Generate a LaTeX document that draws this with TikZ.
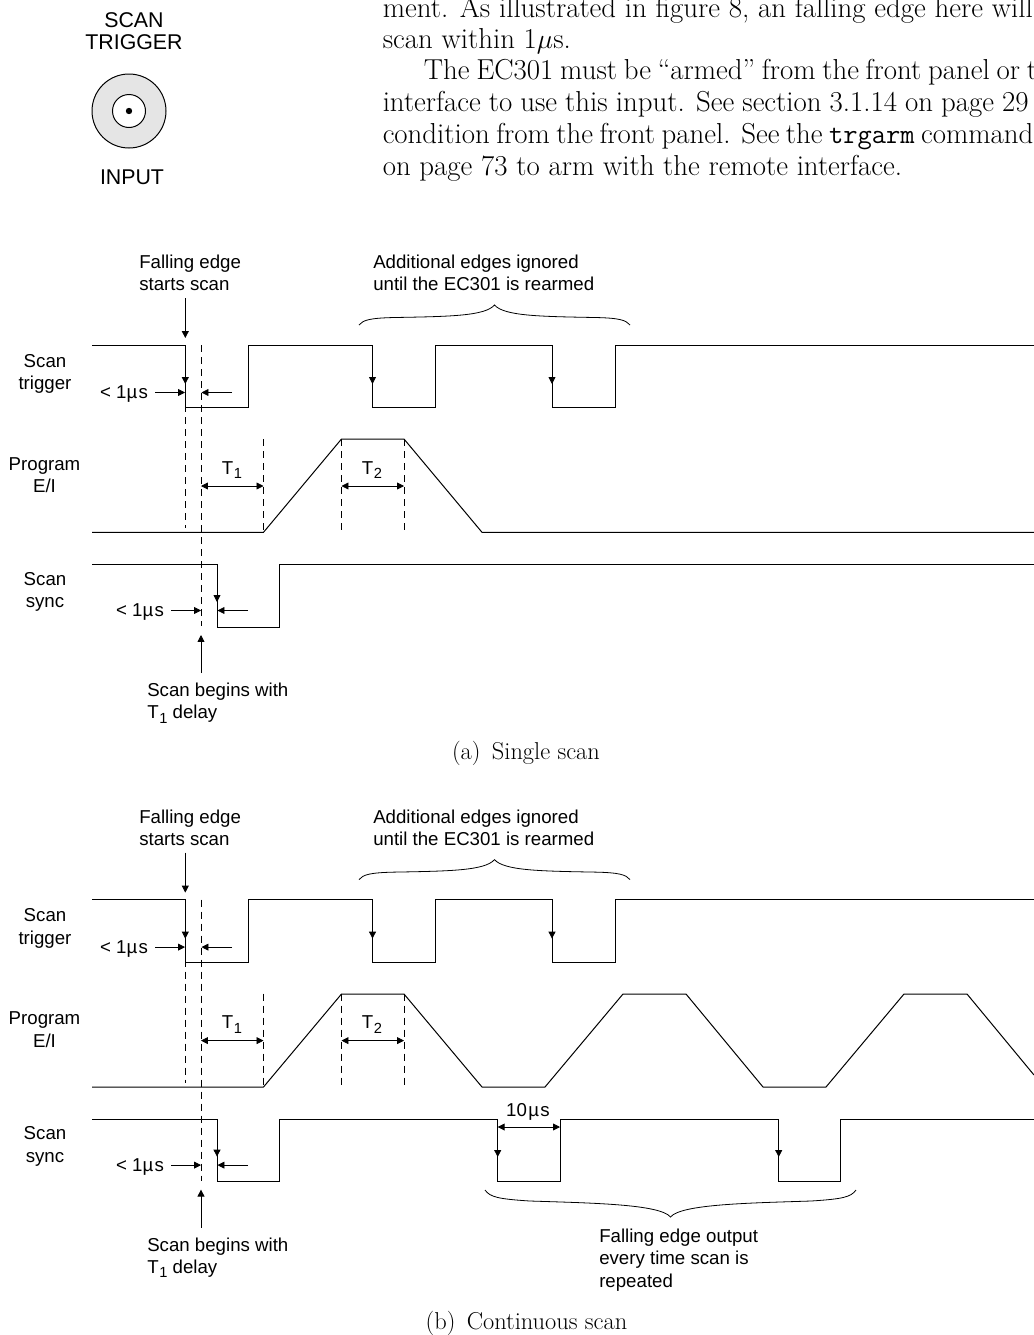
\documentclass[tikz,border=0pt]{standalone}
\usepackage{fontspec}
\setmainfont{Latin Modern Roman}
\newfontfamily\hv{Liberation Sans}
\usetikzlibrary{arrows.meta}
\tikzset{
  x=0.75pt,y=-0.75pt,
  wave/.style={line width=0.75pt,line join=miter},
  guide/.style={line width=0.6pt,dash pattern=on 5.5pt off 3.5pt},
  tip/.style={line width=0.6pt,-{Triangle[length=5.2pt,width=5.2pt]}},
  both/.style={line width=0.6pt,{Triangle[length=5.2pt,width=5.2pt]}-{Triangle[length=5.2pt,width=5.2pt]}},
  lab/.style={font=\hv\fontsize{14}{16.8}\selectfont,inner sep=0pt,align=center},
  labl/.style={lab,align=left},
  bodytext/.style={font=\fontsize{21.65}{23.8}\selectfont,inner sep=0pt,anchor=base west},
  captext/.style={font=\fontsize{18.3}{22}\selectfont,inner sep=0pt,anchor=base},
}
\newcommand{\Tsub}[1]{T\kern0.5pt\raisebox{-0.42ex}{\fontsize{11}{11}\selectfont #1}}
\newcommand{\panel}[1]{%
  \node[labl,anchor=west] (#1fe) at (139,273) {Falling edge\\starts scan};
  \node[labl,anchor=west] (#1ae) at (373,273) {Additional edges ignored\\until the EC301 is rearmed};
  \node[lab] (#1st) at (45,374) {Scan\\trigger};
  \node[lab] (#1pe) at (44.5,475) {Program\\E/I};
  \node[lab] (#1ss) at (45,592) {Scan\\sync};
  \node[lab] (#1l1) at (124,394) {< 1µ\kern1pt s};
  \node[lab] (#1l2) at (140,612) {< 1µ\kern1pt s};
  \node[lab] (#1t1) at (232,470) {\Tsub{1}};
  \node[lab] (#1t2) at (372,470) {\Tsub{2}};
  \node[labl,anchor=west] (#1sb) at (147,703) {Scan begins with\\\Tsub{1} delay};
  % guides
  \draw[guide] (185.3,345) -- (185.3,528);
  \draw[guide] (201,345) -- (201,626);
  \draw[guide] (263.5,439) -- (263.5,532);
  \draw[guide] (341.5,439) -- (341.5,532);
  \draw[guide] (404,439) -- (404,532);
  % trigger
  \draw[wave] (92,345.3) -| (185.3,407.7) -| (248,345.3) -| (372.5,407.7) -| (435.5,345.3) -| (552,407.7) -| (615,345.3) -- (1034,345.3);
  % arrows
  \draw[tip] (185.3,298) -- (185.3,338);
  \foreach \xx in {185.3,372.5,552} \draw[tip] (\xx,360) -- (\xx,384);
  \draw[tip] (217,580) -- (217,602);
  \draw[tip] (155,392.5) -- (185,392.5);
  \draw[tip] (232,392.5) -- (201.5,392.5);
  \draw[tip] (171,610.5) -- (201,610.5);
  \draw[tip] (248,610.5) -- (217.5,610.5);
  \draw[both] (201,486) -- (263.5,486);
  \draw[both] (341.5,486) -- (404,486);
  \draw[tip] (201,673) -- (201,635);
  % brace
  \draw[line width=0.6pt] (359,325) .. controls (363,320) and (370,318) .. (395,317.5)
     .. controls (450,316.5) and (485,316) .. (494.5,305)
     .. controls (504,316) and (540,316.5) .. (595,317.5)
     .. controls (619,318) and (626,320) .. (630,325);
}
\begin{document}
\begin{tikzpicture}
\useasboundingbox (0,0) rectangle (1034,1335);
\fill[white] (0,0) rectangle (1034,1335);
% connector
\node[lab,font=\hv\fontsize{16}{16.5}\selectfont] (sct) at (134,31) {SCAN\\TRIGGER};
\node[lab,font=\hv\fontsize{16}{16.5}\selectfont] (inp) at (132,177) {INPUT};
\filldraw[fill=black!10,line width=0.75pt] (129,111) circle (37);
\filldraw[fill=white,line width=0.75pt] (129,111) circle (16.5);
\fill (129,111) circle (3.2);
% body text
\begin{scope}
\clip (0,0) rectangle (1034,1335);
\node[bodytext] (b1) at (382.5,17) {\hbox to 487.5pt{ment.  As illustrated in figure 8, an falling edge here will}};
\node[bodytext] (b2) at (382.5,48.4) {scan within 1$\mu$s.};
\node[bodytext] (b3) at (423.5,79.8) {\hbox to 460pt{The EC301 must be “armed” from the front panel or t}};
\node[bodytext] (b4) at (382.5,111.7) {\hbox to 484.5pt{interface to use this input.  See section 3.1.14 on page 29}};
\node[bodytext] (b5) at (382.5,143.4) {\hbox to 488pt{condition from the front panel.  See the {\fontsize{20.8}{23.8}\selectfont\ttfamily trgarm} command}};
\node[bodytext] (b6) at (382.5,175.2) {on page 73 to arm with the remote interface.};
\end{scope}
% panel a
\panel{a}
\draw[wave] (92,532.3) -- (263.5,532.3) -- (341.5,439) -- (404,439) -- (482,532.3) -- (1034,532.3);
\draw[wave] (92,564) -| (217,627) -| (279.5,564) -- (1034,564);
\node[captext] (capa) at (526,759.5) {(a)\kern3pt{} Single scan};
% panel b
\begin{scope}[shift={(0,554.6)}]
\panel{b}
\end{scope}
\draw[wave] (92,1087) -- (263.5,1087) -- (341.5,994) -- (404,994) -- (482,1087) -- (545,1087) -- (623,994) -- (686,994) -- (763,1087) -- (826,1087) -- (904,994) -- (967,994) -- (1034,1075);
\draw[wave] (92,1119) -| (217,1181) -| (279.5,1119) -| (497.7,1181) -| (560,1119) -| (778.7,1181) -| (840.7,1119) -- (1034,1119);
\draw[tip] (497.7,1135) -- (497.7,1157);
\draw[tip] (778.7,1135) -- (778.7,1157);
\draw[both] (497.7,1127) -- (560,1127);
\node[lab] (tenus) at (528,1112) {10\kern1pt µ\kern1pt s};
\draw[line width=0.6pt] (485,1190) .. controls (490,1197) and (498,1199) .. (530,1201)
  .. controls (590,1203) and (660,1204) .. (670.5,1217)
  .. controls (681,1204) and (751,1203) .. (811,1201)
  .. controls (843,1199) and (851,1197) .. (856,1190);
\node[labl,anchor=west] (feo) at (599,1260) {Falling edge output\\every time scan is\\repeated};
\node[captext] (capb) at (526.5,1329.5) {(b)\kern3pt{} Continuous scan};
\end{tikzpicture}
\end{document}
